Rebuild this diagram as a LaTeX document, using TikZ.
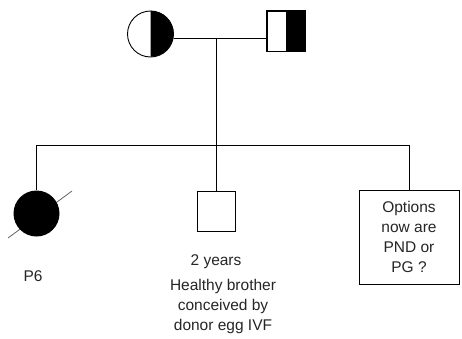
\documentclass[tikz,border=0pt]{standalone}
\usepackage{fontspec}
\setmainfont{Liberation Sans}
\begin{document}
\begin{tikzpicture}[x=1pt,y=-1pt,
  line/.style={draw=black,line width=0.9pt},
  lbl/.style={font=\fontsize{15.5}{20}\selectfont,text=black!85,align=center,inner sep=0pt},
  sq/.style={draw=black,line width=0.9pt,minimum width=38pt,minimum height=40pt,inner sep=0pt}]
\useasboundingbox (0,0) rectangle (462,338);
\fill[white] (0,0) rectangle (462,338);
% mother
\node[circle,minimum size=46pt,inner sep=0pt] (mother) at (150.5,34) {};
\fill[black] (mother.north) arc[start angle=90,end angle=-90,radius=23pt] -- cycle;
\draw[line] (mother) circle[radius=23pt];
% father
\node[sq] (father) at (286,31) {};
\fill[black] (father.north) rectangle (father.south east);
\draw[line] (father.north west) rectangle (father.south east);
% marriage line
\coordinate (m) at (216,38);
\draw[line] (mother.east |- m) -- (father.west |- m);
\coordinate (sib) at (216,145);
\draw[line] (m) -- (sib);
% children
\coordinate (s1) at (8,238);
\coordinate (s2) at (72,191);
\draw[black!60,line width=0.8pt] (s1) -- (s2);
\node[circle,fill=black,minimum size=46pt,inner sep=0pt] (p6) at (36.5,213.5) {};
\node[sq] (bro) at (216,211) {};
\node[draw=black,line width=0.9pt,minimum width=100pt,minimum height=94pt,inner sep=0pt] (opt) at (409,237) {};
\node[lbl,align=center] at (opt.center) {Options\\now are\\PND or\\PG ?};
\draw[line] (p6.north) -- (p6.north |- sib) -- (opt.north |- sib) -- (opt.north);
\draw[line] (sib) -- (bro.north);
% labels
\node[lbl] (p6l) at (33,276) {P6};
\node[lbl] (age) at (216,262) {2 years};
\node[lbl] (desc) at (223,306) {Healthy brother\\conceived by\\donor egg IVF};
\end{tikzpicture}
\end{document}
